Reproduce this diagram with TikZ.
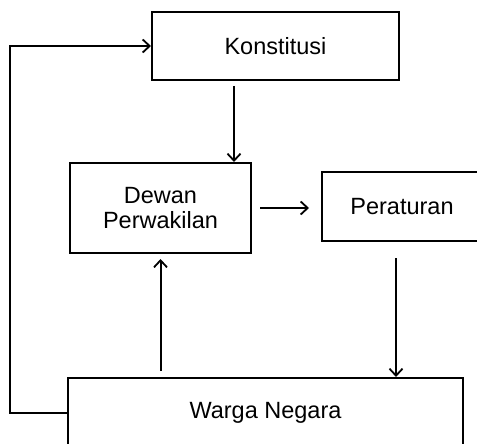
\documentclass[tikz,border=0pt]{standalone}
\usepackage{fontspec}
\setmainfont{Liberation Sans}
\usetikzlibrary{arrows.meta}
\begin{document}
\begin{tikzpicture}[x=1pt,y=-1pt,
  box/.style={draw, line width=2pt, rectangle, inner sep=0pt, align=center,
    font=\fontsize{23.5}{25}\selectfont},
  arr/.style={line width=2pt, -{Straight Barb[length=7pt,width=13pt,line width=1.8pt]}}]
  \useasboundingbox (0,0) rectangle (477,444);
  \clip (0,0) rectangle (477,444);
  % boxes
  \node[box, minimum width=247pt, minimum height=68pt] (konst) at (275.5,46) {Konstitusi};
  \node[box, minimum width=181pt, minimum height=90pt] (dewan) at (160.5,208) {Dewan\\Perwakilan};
  \node[box, minimum width=160pt, minimum height=69pt] (per) at (402,206.5) {Peraturan};
  \node[box, minimum width=395pt, minimum height=70pt] (warga) at (265.5,413) {Warga Negara};
  % feedback loop on the left
  \coordinate (loop) at (10,413);
  \draw[arr] (warga.west) -- (loop) |- (konst.west);
  % arrows between boxes
  \draw[arr, shorten <=5pt] ([xshift=73.5pt]dewan.north |- konst.south) -- ([xshift=73.5pt]dewan.north);
  \draw[arr, shorten <=8pt, shorten >=12pt] (dewan.east) -- (dewan.east -| per.west);
  \draw[arr, shorten <=16pt] ([xshift=-6pt]per.south) -- ([xshift=-6pt]per.south |- warga.north);
  \draw[arr, shorten <=6pt, shorten >=5pt] (dewan.south |- warga.north) -- (dewan.south);
\end{tikzpicture}
\end{document}
